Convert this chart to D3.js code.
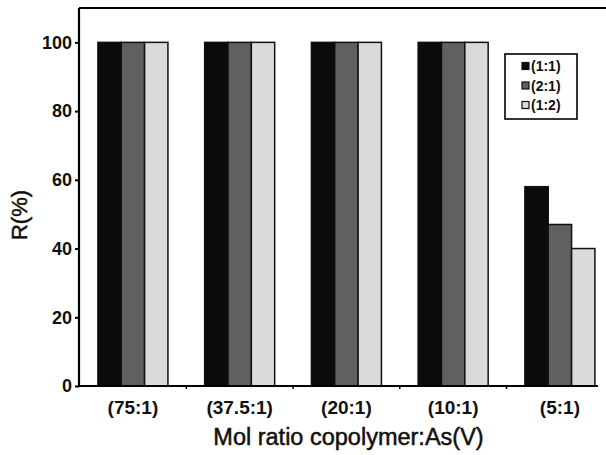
<!DOCTYPE html>
<html>
<head>
<meta charset="utf-8">
<script src="https://cdn.jsdelivr.net/npm/d3@7"></script>
<style>
  html, body { margin: 0; padding: 0; background: #fff; }
  svg { display: block; font-family: "Liberation Sans", Arial, sans-serif; }
</style>
</head>
<body>
<svg id="chart" width="606" height="455"></svg>
<script>
// Removal (%) for each copolymer:As(V) mole ratio, grouped by copolymer composition
const categories = ["(75:1)", "(37.5:1)", "(20:1)", "(10:1)", "(5:1)"];
const seriesNames = ["(1:1)", "(2:1)", "(1:2)"];
const series11 = [100, 100, 100, 100, 58];
const series21 = [100, 100, 100, 100, 47];
const series12 = [100, 100, 100, 100, 40];
const yTicks = [0, 20, 40, 60, 80, 100];
const fills = ["#0b0b0b", "#606060", "#dadada"];

const seriesValues = [series11, series21, series12];
const rows = categories.map((c, i) => ({
  cat: c,
  vals: seriesNames.map((s, j) => ({ key: s, idx: j, value: seriesValues[j][i] }))
}));

const svg = d3.select("#chart");
const plotLeft = 79, plotRight = 598, plotBottom = 386, plotTop = 8;

const y = d3.scaleLinear().domain([0, 110]).range([plotBottom, plotTop]);
const x = d3.scaleBand().domain(categories).range([plotLeft, plotRight])
  .paddingInner(0.344).paddingOuter(0.103).align(0.86);
const xs = d3.scaleBand().domain(seriesNames).range([0, x.bandwidth()]);

// top frame line
svg.append("line")
  .attr("x1", plotLeft).attr("x2", 606)
  .attr("y1", y(110)).attr("y2", y(110))
  .attr("stroke", "#000").attr("stroke-width", 2.2);

// bars
const groups = svg.append("g").selectAll("g").data(rows).join("g")
  .attr("transform", d => `translate(${x(d.cat)},0)`);
groups.selectAll("rect").data(d => d.vals).join("rect")
  .attr("x", d => xs(d.key))
  .attr("width", xs.bandwidth())
  .attr("y", d => y(d.value))
  .attr("height", d => y(0) - y(d.value))
  .attr("fill", d => fills[d.idx])
  .attr("stroke", "#111")
  .attr("stroke-width", 1.5);

// y axis
const yAxis = svg.append("g").attr("transform", `translate(${plotLeft},0)`)
  .call(d3.axisLeft(y).tickValues(yTicks).tickSize(4).tickPadding(3));
yAxis.select(".domain").attr("d", `M0,${y(110)}V${plotBottom}`).attr("stroke-width", 2.2);
yAxis.selectAll(".tick line").attr("stroke-width", 2);
yAxis.selectAll(".tick text")
  .attr("font-size", 18).attr("font-weight", "bold")
  .attr("font-family", "Liberation Sans, Arial, sans-serif").attr("fill", "#111");

// x axis: ticks sit between the groups
const step = x.step();
const boundaries = categories.slice(1).map(c => x(c) - step * x.paddingInner() / 2);
const xAxisG = svg.append("g");
xAxisG.append("line")
  .attr("x1", plotLeft - 1).attr("x2", plotRight)
  .attr("y1", plotBottom).attr("y2", plotBottom)
  .attr("stroke", "#000").attr("stroke-width", 2.2);
xAxisG.selectAll("line.tk").data(boundaries).join("line")
  .attr("class", "tk")
  .attr("x1", d => d).attr("x2", d => d)
  .attr("y1", plotBottom).attr("y2", plotBottom + 3)
  .attr("stroke", "#000").attr("stroke-width", 1.5);
xAxisG.selectAll("text").data(categories).join("text")
  .attr("x", d => x(d) + x.bandwidth() / 2)
  .attr("y", 414)
  .attr("text-anchor", "middle")
  .attr("font-size", 19).attr("font-weight", "bold")
  .attr("fill", "#111")
  .text(d => d);

// axis titles
svg.append("text")
  .attr("x", (plotLeft + plotRight) / 2 + 10).attr("y", 445)
  .attr("text-anchor", "middle")
  .attr("font-size", 23.5).attr("fill", "#111")
  .attr("stroke", "#111").attr("stroke-width", 0.5)
  .text("Mol ratio copolymer:As(V)");
svg.append("text")
  .attr("transform", `translate(27,${215}) rotate(-90)`)
  .attr("text-anchor", "middle")
  .attr("font-size", 22).attr("fill", "#111")
  .attr("stroke", "#111").attr("stroke-width", 0.5)
  .text("R(%)");

// legend
const lg = svg.append("g").attr("transform", "translate(505,54)");
lg.append("rect").attr("width", 72).attr("height", 65)
  .attr("fill", "#fff").attr("stroke", "#000").attr("stroke-width", 1.6);
const items = lg.selectAll("g").data(seriesNames).join("g")
  .attr("transform", (d, i) => `translate(17,${12 + i * 19.5})`);
items.append("rect")
  .attr("x", 0).attr("y", -3.5).attr("width", 7).attr("height", 7)
  .attr("fill", (d, i) => fills[i]).attr("stroke", "#111").attr("stroke-width", 1.2);
items.append("text")
  .attr("x", 9).attr("y", 5)
  .attr("font-size", 14).attr("font-weight", "bold").attr("fill", "#111")
  .text(d => d);
</script>
</body>
</html>
